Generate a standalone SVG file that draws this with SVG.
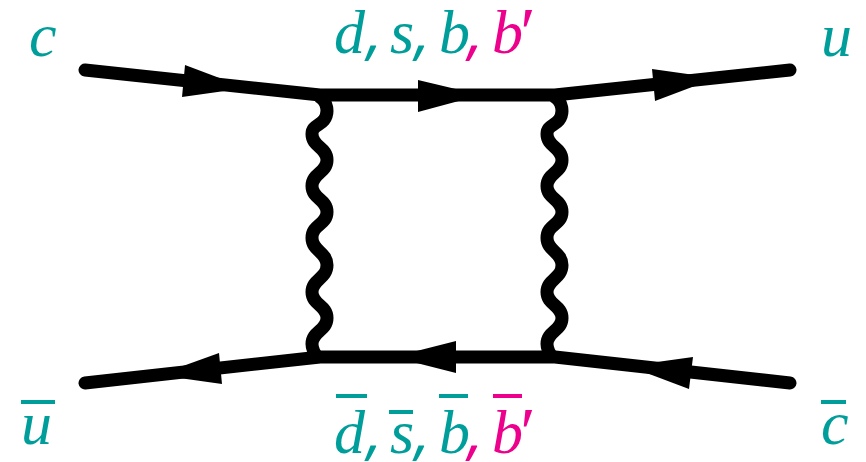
<svg xmlns="http://www.w3.org/2000/svg" width="866" height="462" viewBox="0 0 866 462">
<style>
text{font-family:"Liberation Serif","DejaVu Serif",serif;font-style:italic;font-size:62px}
.t{fill:#009e9a}.p{fill:#ec008c}
.cm{font-family:"Open Sans","Noto Sans",sans-serif;font-size:62px}
.pr{font-size:70px}
.l{fill:none;stroke:#000;stroke-width:13;stroke-linecap:round;stroke-linejoin:round}
.w{fill:none;stroke:#000;stroke-width:13}
</style>
<rect width="866" height="462" fill="#fff"/>
<g id="connectors">
<path class="l" d="M85 70L320 95H555L790 70"/>
<path class="l" d="M85 383L320 357H555L790 383"/>
<path class="w" d="M318 96C328 101 329 113 324 120C319 126 312 126 312 134C312 147 327 147 327 160C327 173 312 173 312 186C312 199 327 199 327 212C327 225 312 224 312 238C312 251 327 252 327 265C327 279 312 279 312 292C312 305 327 305 327 318C327 331 312 331 312 344C312 349 314 353 318 358"/>
<path class="w" d="M553 96C563 101 564 113 559 120C554 126 547 126 547 134C547 147 562 147 562 160C562 173 547 173 547 186C547 199 562 199 562 212C562 225 547 224 547 238C547 251 562 252 562 265C562 279 547 279 547 292C547 305 562 305 562 318C562 331 547 331 547 344C547 349 549 353 553 358"/>
<path d="M185 65L182 97L246 88Z"/>
<path d="M418 80V112L481 95Z"/>
<path d="M652 69L655 101L716 78Z"/>
<path d="M219 353L222 384L158 375Z"/>
<path d="M456 341V373L393 357Z"/>
<path d="M693 357L689 389L628 366Z"/>
</g>
<g id="c"><text class="t" x="29" y="56">c</text></g>
<g id="u"><text class="t" x="821" y="56">u</text></g>
<g id="top-label">
<text y="53"><tspan class="t" x="334">d</tspan><tspan class="t cm" x="367">,</tspan><tspan class="t" x="390">s</tspan><tspan class="t cm" x="415">,</tspan><tspan class="t" x="439">b</tspan><tspan class="p cm" x="468">,</tspan><tspan class="p" x="492">b</tspan><tspan class="p pr" x="516" dy="3">′</tspan></text>
</g>
<g id="ubar"><rect class="t" x="21" y="400" width="34" height="4"/><text class="t" x="21" y="444">u</text></g>
<g id="cbar"><rect class="t" x="821" y="400" width="25" height="4"/><text class="t" x="821" y="444">c</text></g>
<g id="bottom-label">
<rect class="t" x="336" y="394" width="31" height="4"/>
<rect class="t" x="389" y="410" width="24" height="4"/>
<rect class="t" x="439" y="394" width="29" height="4"/>
<rect class="p" x="493" y="394" width="29" height="4"/>
<text y="453"><tspan class="t" x="334">d</tspan><tspan class="t cm" x="367">,</tspan><tspan class="t" x="390">s</tspan><tspan class="t cm" x="415">,</tspan><tspan class="t" x="439">b</tspan><tspan class="p cm" x="468">,</tspan><tspan class="p" x="492">b</tspan><tspan class="p pr" x="516" dy="3">′</tspan></text>
</g>
</svg>
